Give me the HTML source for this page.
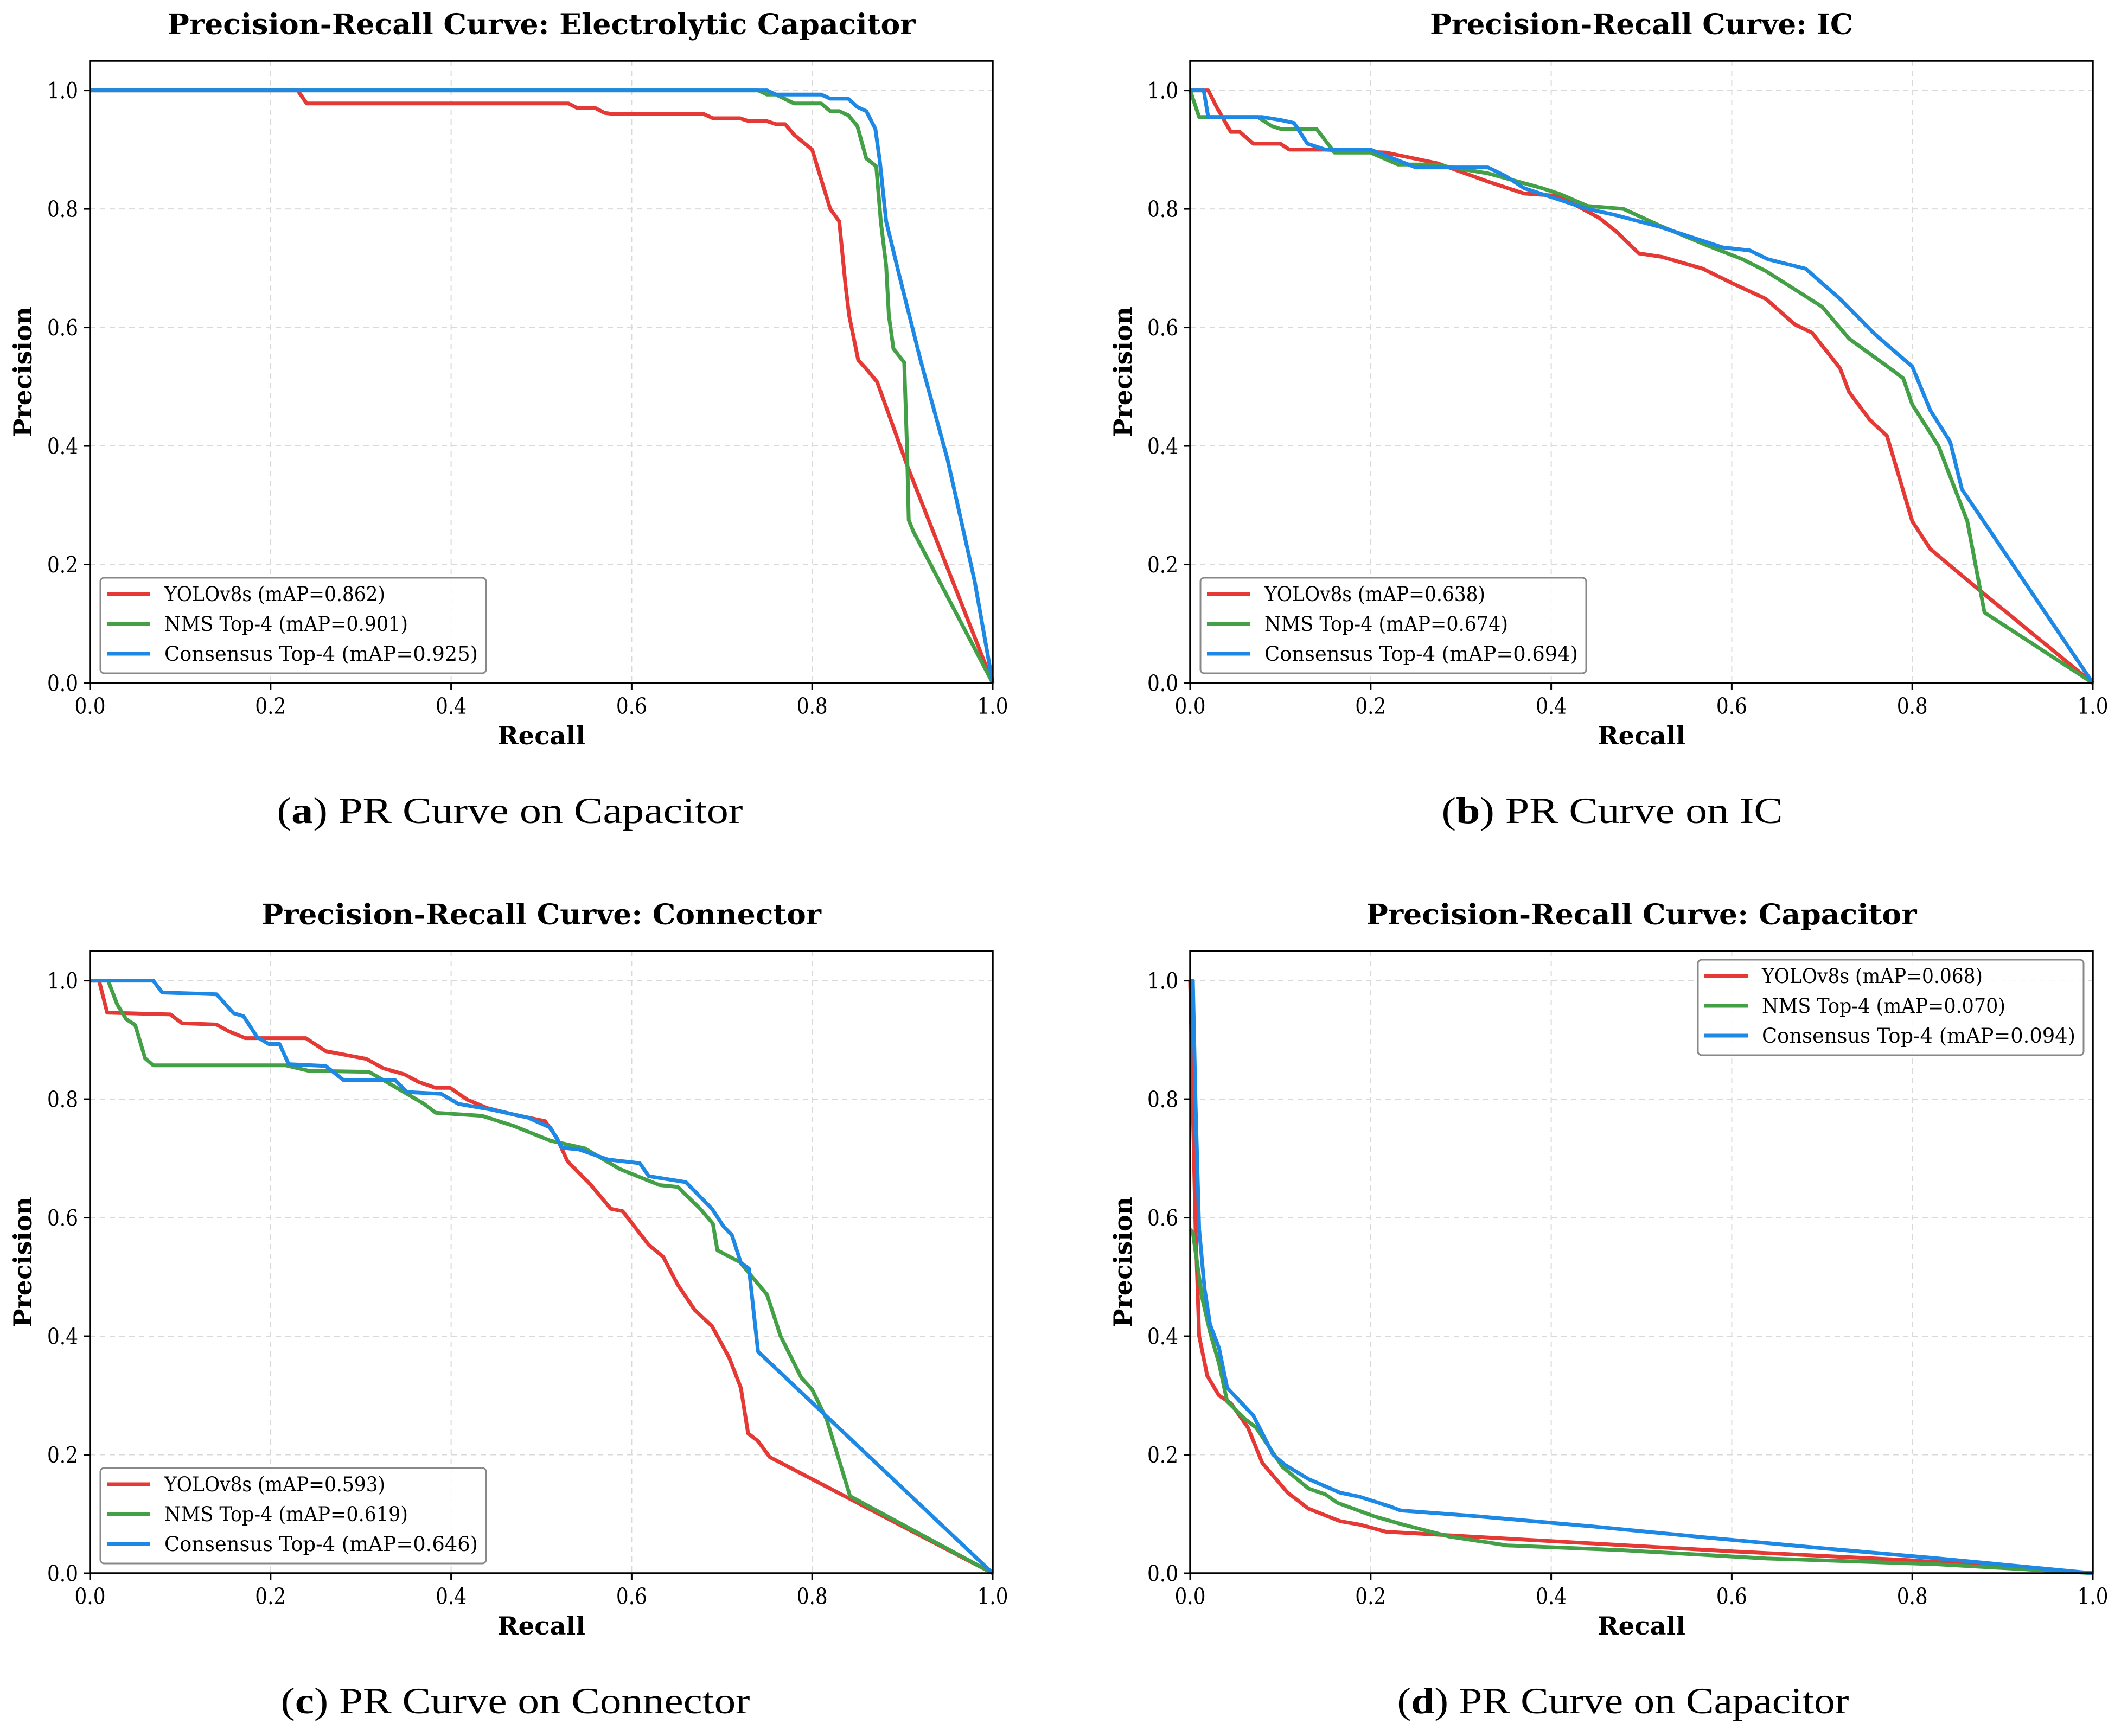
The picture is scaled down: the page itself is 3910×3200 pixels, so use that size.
<!DOCTYPE html>
<html>
<head>
<meta charset="utf-8">
<style>
html,body{margin:0;padding:0;background:#fff;}
svg{display:block;}
text{font-family:"DejaVu Serif","Liberation Serif",serif;fill:#000;}
</style>
</head>
<body>
<svg id="fig" xmlns="http://www.w3.org/2000/svg" width="3910" height="3200" viewBox="0 0 3910 3200"></svg>
<script>
// ---- Panel (a) Electrolytic Capacitor ----
const recallA_yolo = [0,0.23,0.24,0.53,0.54,0.56,0.57,0.58,0.68,0.69,0.72,0.73,0.75,0.76,0.77,0.78,0.80,0.81,0.82,0.83,0.837,0.841,0.851,0.86,0.872,0.905,1.0];
const precA_yolo   = [1,1,0.978,0.978,0.97,0.97,0.962,0.96,0.96,0.953,0.953,0.948,0.948,0.943,0.943,0.925,0.90,0.85,0.80,0.779,0.67,0.62,0.545,0.53,0.508,0.368,0];
const recallA_nms  = [0,0.74,0.75,0.76,0.78,0.81,0.82,0.83,0.84,0.85,0.86,0.871,0.876,0.882,0.885,0.89,0.902,0.905,0.907,0.912,1.0];
const precA_nms    = [1,1,0.993,0.993,0.978,0.978,0.965,0.965,0.958,0.94,0.885,0.872,0.779,0.704,0.62,0.564,0.541,0.40,0.275,0.256,0];
const recallA_cons = [0,0.75,0.76,0.81,0.82,0.84,0.85,0.86,0.87,0.875,0.882,0.897,0.92,0.95,0.98,1.0];
const precA_cons   = [1,1,0.993,0.993,0.986,0.986,0.972,0.965,0.935,0.88,0.779,0.685,0.545,0.377,0.172,0];
const mapA = ["0.862","0.901","0.925"];

// ---- Panel (b) IC ----
const recallB_yolo = [0,0.02,0.03,0.045,0.055,0.07,0.10,0.11,0.15,0.217,0.274,0.33,0.37,0.408,0.453,0.472,0.497,0.523,0.568,0.60,0.638,0.67,0.689,0.72,0.73,0.753,0.772,0.80,0.82,0.867,1.0];
const precB_yolo   = [1,1,0.97,0.93,0.93,0.91,0.91,0.90,0.90,0.895,0.877,0.846,0.826,0.822,0.785,0.762,0.725,0.719,0.699,0.675,0.648,0.605,0.591,0.531,0.491,0.444,0.417,0.273,0.226,0.166,0];
const recallB_nms  = [0,0.01,0.075,0.09,0.10,0.14,0.16,0.20,0.23,0.27,0.33,0.39,0.41,0.44,0.48,0.52,0.57,0.612,0.638,0.70,0.73,0.778,0.79,0.80,0.829,0.861,0.88,1.0];
const precB_nms    = [1,0.955,0.955,0.94,0.935,0.935,0.895,0.895,0.875,0.875,0.86,0.835,0.825,0.805,0.80,0.772,0.74,0.715,0.695,0.635,0.581,0.528,0.514,0.47,0.40,0.273,0.119,0];
const recallB_cons = [0,0.015,0.02,0.08,0.10,0.115,0.13,0.15,0.20,0.225,0.25,0.33,0.35,0.37,0.40,0.44,0.47,0.52,0.56,0.59,0.62,0.64,0.682,0.72,0.759,0.80,0.82,0.842,0.855,1.0];
const precB_cons   = [1,1,0.955,0.955,0.95,0.945,0.91,0.90,0.90,0.885,0.87,0.87,0.855,0.835,0.82,0.80,0.79,0.77,0.75,0.735,0.73,0.715,0.699,0.648,0.588,0.534,0.46,0.407,0.327,0];
const mapB = ["0.638","0.674","0.694"];

// ---- Panel (c) Connector ----
const recallC_yolo = [0,0.01,0.019,0.089,0.102,0.14,0.153,0.172,0.239,0.261,0.306,0.325,0.348,0.364,0.383,0.399,0.418,0.44,0.472,0.504,0.517,0.529,0.555,0.577,0.59,0.619,0.635,0.651,0.67,0.689,0.708,0.721,0.729,0.74,0.753,1.0];
const precC_yolo   = [1,1,0.946,0.943,0.928,0.926,0.915,0.903,0.903,0.881,0.868,0.852,0.842,0.829,0.819,0.819,0.799,0.785,0.773,0.763,0.735,0.695,0.655,0.615,0.611,0.554,0.534,0.487,0.444,0.417,0.364,0.313,0.236,0.223,0.196,0];
const recallC_nms  = [0,0.02,0.03,0.04,0.05,0.061,0.07,0.217,0.242,0.309,0.332,0.37,0.383,0.434,0.469,0.51,0.548,0.587,0.631,0.651,0.676,0.69,0.695,0.72,0.75,0.765,0.788,0.80,0.816,0.842,1.0];
const precC_nms    = [1,1,0.96,0.935,0.925,0.869,0.857,0.857,0.848,0.846,0.826,0.792,0.777,0.772,0.755,0.73,0.717,0.682,0.655,0.652,0.615,0.59,0.545,0.525,0.47,0.40,0.33,0.31,0.26,0.13,0];
const recallC_cons = [0,0.07,0.08,0.14,0.159,0.17,0.185,0.198,0.21,0.22,0.261,0.281,0.338,0.351,0.389,0.408,0.446,0.485,0.51,0.523,0.542,0.574,0.609,0.619,0.66,0.689,0.702,0.711,0.721,0.73,0.74,1.0];
const precC_cons   = [1,1,0.98,0.977,0.945,0.94,0.905,0.893,0.893,0.859,0.856,0.832,0.832,0.812,0.809,0.792,0.782,0.769,0.752,0.718,0.715,0.698,0.692,0.67,0.66,0.615,0.585,0.571,0.524,0.514,0.374,0];
const mapC = ["0.593","0.619","0.646"];

// ---- Panel (d) Capacitor ----
const recallD_yolo = [0,0.002,0.006,0.01,0.019,0.032,0.045,0.064,0.08,0.108,0.131,0.166,0.188,0.217,0.287,0.402,0.60,0.797,0.893,1.0];
const precD_yolo   = [1.0,0.85,0.58,0.40,0.333,0.30,0.287,0.246,0.186,0.136,0.109,0.088,0.082,0.07,0.064,0.054,0.037,0.022,0.012,0];
const recallD_nms  = [0,0.003,0.013,0.022,0.032,0.041,0.061,0.073,0.102,0.131,0.15,0.163,0.204,0.236,0.287,0.351,0.478,0.638,0.829,1.0];
const precD_nms    = [0.58,0.575,0.467,0.407,0.354,0.29,0.26,0.246,0.18,0.143,0.133,0.119,0.096,0.082,0.062,0.047,0.039,0.025,0.015,0];
const recallD_cons = [0,0.003,0.006,0.01,0.016,0.022,0.032,0.041,0.07,0.092,0.105,0.131,0.166,0.188,0.223,0.233,0.319,0.446,0.574,0.702,0.829,1.0];
const precD_cons   = [1.0,1.0,0.79,0.58,0.48,0.42,0.38,0.313,0.266,0.2,0.183,0.159,0.136,0.129,0.112,0.106,0.096,0.079,0.06,0.042,0.025,0];
const mapD = ["0.068","0.070","0.094"];

const xTicks = [0,0.2,0.4,0.6,0.8,1.0];
const yTicks = [0,0.2,0.4,0.6,0.8,1.0];
const tickLabels = ["0.0","0.2","0.4","0.6","0.8","1.0"];
const seriesNames = ["YOLOv8s","NMS Top-4","Consensus Top-4"];

const NS = "http://www.w3.org/2000/svg";
const svg = document.getElementById("fig");
const COLORS = ["#e53935","#43a047","#1e88e5"];
const W = 1664, H = 1147, YMAX = 1.05;

function mk(tag, attrs, parent){
  const e = document.createElementNS(NS, tag);
  for (const k in attrs) e.setAttribute(k, attrs[k]);
  (parent||svg).appendChild(e);
  return e;
}

const panels = [
  {key:"a", ox:166, oy:112, title:"Precision-Recall Curve: Electrolytic Capacitor", titleLen:1379,
   series:[[recallA_yolo,precA_yolo],[recallA_nms,precA_nms],[recallA_cons,precA_cons]], maps:mapA,
   legend:"bl", cap:"Capacitor", capX:940, capLen:859},
  {key:"b", ox:2194, oy:112, title:"Precision-Recall Curve: IC", titleLen:780,
   series:[[recallB_yolo,precB_yolo],[recallB_nms,precB_nms],[recallB_cons,precB_cons]], maps:mapB,
   legend:"bl", cap:"IC", capX:2972, capLen:629},
  {key:"c", ox:166, oy:1753, title:"Precision-Recall Curve: Connector", titleLen:1032,
   series:[[recallC_yolo,precC_yolo],[recallC_nms,precC_nms],[recallC_cons,precC_cons]], maps:mapC,
   legend:"bl", cap:"Connector", capX:950, capLen:865},
  {key:"d", ox:2194, oy:1753, title:"Precision-Recall Curve: Capacitor", titleLen:1015,
   series:[[recallD_yolo,precD_yolo],[recallD_nms,precD_nms],[recallD_cons,precD_cons]], maps:mapD,
   legend:"tr", cap:"Capacitor", capX:2992, capLen:833}
];

panels.forEach(function(p){
  const g = mk("g", {});
  
  
  const xs = function(v){ return p.ox + v * W; };
  const ys = function(v){ return p.oy + H * (1 - v / YMAX); };

  xTicks.forEach(function(t){
    const l = mk("line", {x1:xs(t), x2:xs(t), y1:p.oy, y2:p.oy+H, stroke:"#d9d9d9", "stroke-width":2, "stroke-dasharray":"10,8"}, g);
    
    
  });
  yTicks.forEach(function(t){
    const l = mk("line", {x1:p.ox, x2:p.ox+W, y1:ys(t), y2:ys(t), stroke:"#d9d9d9", "stroke-width":2, "stroke-dasharray":"10,8"}, g);
    
    
  });

  p.series.forEach(function(s, i){
    let d = "";
    for (let k = 0; k < s[0].length; k++) d += (k ? "L" : "M") + xs(s[0][k]).toFixed(1) + "," + ys(s[1][k]).toFixed(1);
    const path = mk("path", {d:d, fill:"none", stroke:COLORS[i], "stroke-width":7, "stroke-linejoin":"round", "stroke-linecap":"butt"}, g);
    
    
  });

  const fr = mk("rect", {x:p.ox, y:p.oy, width:W, height:H, fill:"none", stroke:"#000", "stroke-width":3.5}, g);
  
  

  xTicks.forEach(function(t, i){
    mk("line", {x1:xs(t), x2:xs(t), y1:p.oy+H, y2:p.oy+H+12, stroke:"#000", "stroke-width":3}, g);
    const tx = mk("text", {x:xs(t), y:p.oy+H+57, "font-size":41, "text-anchor":"middle", textLength:57, lengthAdjust:"spacingAndGlyphs"}, g);
    tx.textContent = tickLabels[i];
    
    
  });
  yTicks.forEach(function(t, i){
    mk("line", {x1:p.ox-12, x2:p.ox, y1:ys(t), y2:ys(t), stroke:"#000", "stroke-width":3}, g);
    const ty = mk("text", {x:p.ox-22, y:ys(t)+15, "font-size":41, "text-anchor":"end", textLength:57, lengthAdjust:"spacingAndGlyphs"}, g);
    ty.textContent = tickLabels[i];
    
    
  });

  const xl = mk("text", {x:p.ox+W/2, y:p.oy+H+113, "font-size":46, "font-weight":"bold", "text-anchor":"middle", textLength:162, lengthAdjust:"spacingAndGlyphs"}, g);
  xl.textContent = "Recall";
  
  
  const cy = p.oy + H/2;
  const ax = p.ox - 124;
  const yl = mk("text", {x:ax, y:cy, "font-size":46, "font-weight":"bold", "text-anchor":"middle", textLength:241, lengthAdjust:"spacingAndGlyphs", transform:"rotate(-90 " + ax + " " + cy + ") translate(0,16)"}, g);
  yl.textContent = "Precision";
  
  

  const tt = mk("text", {x:p.ox+W/2, y:p.oy-49, "font-size":52, "font-weight":"bold", "text-anchor":"middle", textLength:p.titleLen, lengthAdjust:"spacingAndGlyphs"}, g);
  tt.textContent = p.title;
  
  

  const lx = p.legend === "bl" ? p.ox + 19 : p.ox + 936;
  const ly = p.legend === "bl" ? p.oy + 953 : p.oy + 16;
  const lg = mk("g", {}, g);
  
  
  mk("rect", {x:lx, y:ly, width:711, height:176, rx:7, ry:7, fill:"rgba(255,255,255,0.85)", stroke:"#888", "stroke-width":3}, lg);
  seriesNames.forEach(function(n, i){
    const ry = ly + 30 + i * 55;
    const ent = mk("g", {}, lg);
    
    
    mk("line", {x1:lx+12, x2:lx+92, y1:ry, y2:ry, stroke:COLORS[i], "stroke-width":7}, ent);
    const lt = mk("text", {x:lx+118, y:ry+13, "font-size":37}, ent);
    const label = n + " (mAP=" + p.maps[i] + ")";
    lt.setAttribute("textLength", Math.round(label.length * 21.4));
    lt.setAttribute("lengthAdjust", "spacingAndGlyphs");
    lt.textContent = label;
  });

  const cpy = p.oy + 1405;
  const cp = mk("text", {x:p.capX, y:cpy, "font-size":68, "text-anchor":"middle", style:"font-family:'Liberation Serif',serif", textLength:p.capLen, lengthAdjust:"spacingAndGlyphs"}, g);
  
  
  const t1 = mk("tspan", {}, cp); t1.textContent = "(";
  const t2 = mk("tspan", {"font-weight":"bold"}, cp); t2.textContent = p.key;
  const t3 = mk("tspan", {}, cp); t3.textContent = ") PR Curve on " + p.cap;
});
</script>
</body>
</html>
